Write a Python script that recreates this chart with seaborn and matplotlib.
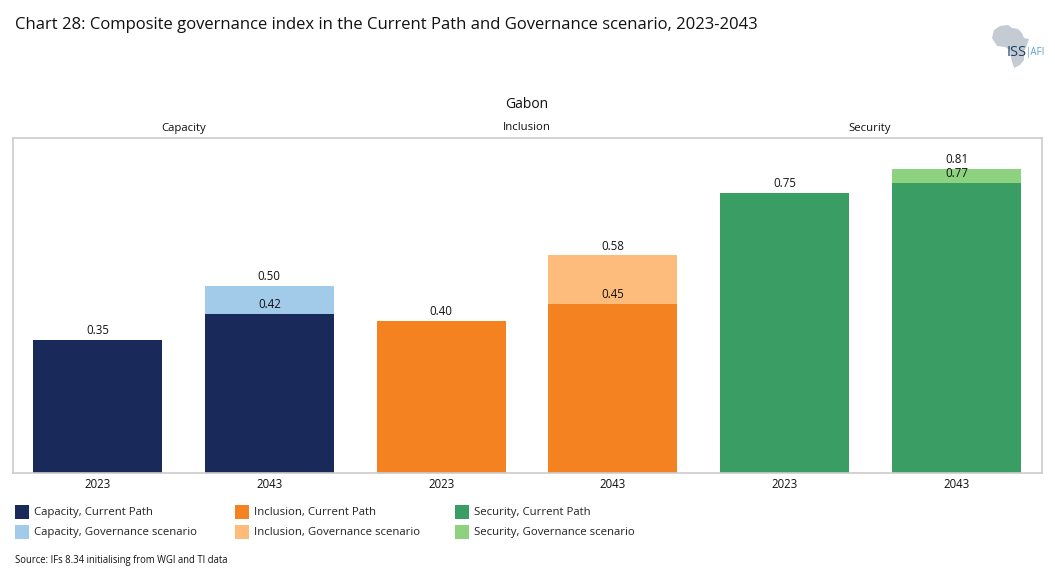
import matplotlib
matplotlib.use('Agg')
import matplotlib.pyplot as plt
from matplotlib.patches import Rectangle, Polygon
import pandas as pd
import seaborn as sns

groups = ['Capacity', 'Inclusion', 'Security']
years = ['2023', '2043', '2023', '2043', '2023', '2043']
current_path = [0.355, 0.424, 0.405, 0.45, 0.747, 0.773]
governance = [0.355, 0.50, 0.405, 0.58, 0.747, 0.81]
current_labels = ['0.35', '0.42', '0.40', '0.45', '0.75', '0.77']
governance_labels = [None, '0.50', None, '0.58', None, '0.81']
dark_colors = ['#19295a', '#19295a', '#f58220', '#f58220', '#3a9e64', '#3a9e64']
light_colors = ['#a2cbea', '#a2cbea', '#febc7c', '#febc7c', '#8dd27f', '#8dd27f']
legend_dark = ['Capacity, Current Path', 'Inclusion, Current Path', 'Security, Current Path']
legend_light = ['Capacity, Governance scenario', 'Inclusion, Governance scenario', 'Security, Governance scenario']

sns.set_theme(style='white')
plt.rcParams['font.family'] = ['Open Sans', 'DejaVu Sans']
W, H = 1055, 584
fig = plt.figure(figsize=(W / 100, H / 100), dpi=100)
ax = fig.add_axes([13 / W, 1 - 473 / H, 1029 / W, 335 / H])

df = pd.DataFrame({'pos': range(6), 'current': current_path, 'gov': governance})
sns.barplot(data=df, x='pos', y='gov', hue='pos', palette=light_colors, width=0.75,
            dodge=False, legend=False, saturation=1, linewidth=0, ax=ax)
sns.barplot(data=df, x='pos', y='current', hue='pos', palette=dark_colors, width=0.75,
            dodge=False, legend=False, saturation=1, linewidth=0, ax=ax)

ax.set_xlim(-0.492, 5.498)
ax.set_ylim(0, 335 / 375)
ax.set_xlabel('')
ax.set_ylabel('')
ax.set_yticks([])
ax.set_xticks(range(6))
ax.set_xticklabels(years, fontsize=8.3, color='#111111')
ax.tick_params(axis='x', length=0, pad=3.5)
for s in ax.spines.values():
    s.set_color('#cccccc')
    s.set_linewidth(1.2)

for i in range(6):
    ax.annotate(current_labels[i], (i, current_path[i]), xytext=(0, 2), textcoords='offset points',
                ha='center', va='bottom', fontsize=8.3, color='#111111')
    if governance_labels[i]:
        ax.annotate(governance_labels[i], (i, governance[i]), xytext=(0, 2), textcoords='offset points',
                    ha='center', va='bottom', fontsize=8.3, color='#111111')

fig.text(15 / W, 1 - 25 / H, 'Chart 28: Composite governance index in the Current Path and Governance scenario, 2023-2043',
         fontsize=11.94, color='#111111', va='center')
fig.text(527 / W, 1 - 104 / H, 'Gabon', fontsize=10, color='#111111', ha='center', va='center')
for g, x in zip(groups, [184, 527, 870]):
    fig.text(x / W, 1 - 128 / H, g, fontsize=8.2, color='#111111', ha='center', va='center')

# legend drawn by hand so the columns sit on a fixed pitch
for j in range(3):
    x0 = 15 + 220 * j
    fig.add_artist(Rectangle((x0 / W, 1 - 519 / H), 14 / W, 14 / H, transform=fig.transFigure,
                             color=dark_colors[j * 2], lw=0))
    fig.add_artist(Rectangle((x0 / W, 1 - 539 / H), 14 / W, 14 / H, transform=fig.transFigure,
                             color=light_colors[j * 2], lw=0))
    fig.text((x0 + 19) / W, 1 - 512 / H, legend_dark[j], fontsize=8.2, color='#222222', va='center')
    fig.text((x0 + 19) / W, 1 - 532 / H, legend_light[j], fontsize=8.2, color='#222222', va='center')

fig.text(15 / W, 1 - 560 / H, 'Source: IFs 8.34 initialising from WGI and TI data', fontsize=6.85,
         color='#111111', va='center')

# logo
africa = [(992, 38), (994, 30), (1000, 26), (1008, 25), (1012, 28), (1018, 29), (1022, 33), (1024, 38),
          (1029, 39), (1027, 45), (1024, 52), (1024, 60), (1020, 65), (1014, 68), (1011, 58), (1010, 50),
          (1005, 47), (997, 46)]
fig.add_artist(Polygon([(x / W, 1 - y / H) for x, y in africa], closed=True, transform=fig.transFigure,
                       color='#c5cbd3', lw=0))
fig.text(1006.5 / W, 1 - 53 / H, 'ISS', fontsize=10.5, color='#1d3f66', va='center')
fig.text(1026 / W, 1 - 53 / H, '|AFI', fontsize=7, color='#5aa0c8', va='center')

fig.savefig('out.png', dpi=100)
